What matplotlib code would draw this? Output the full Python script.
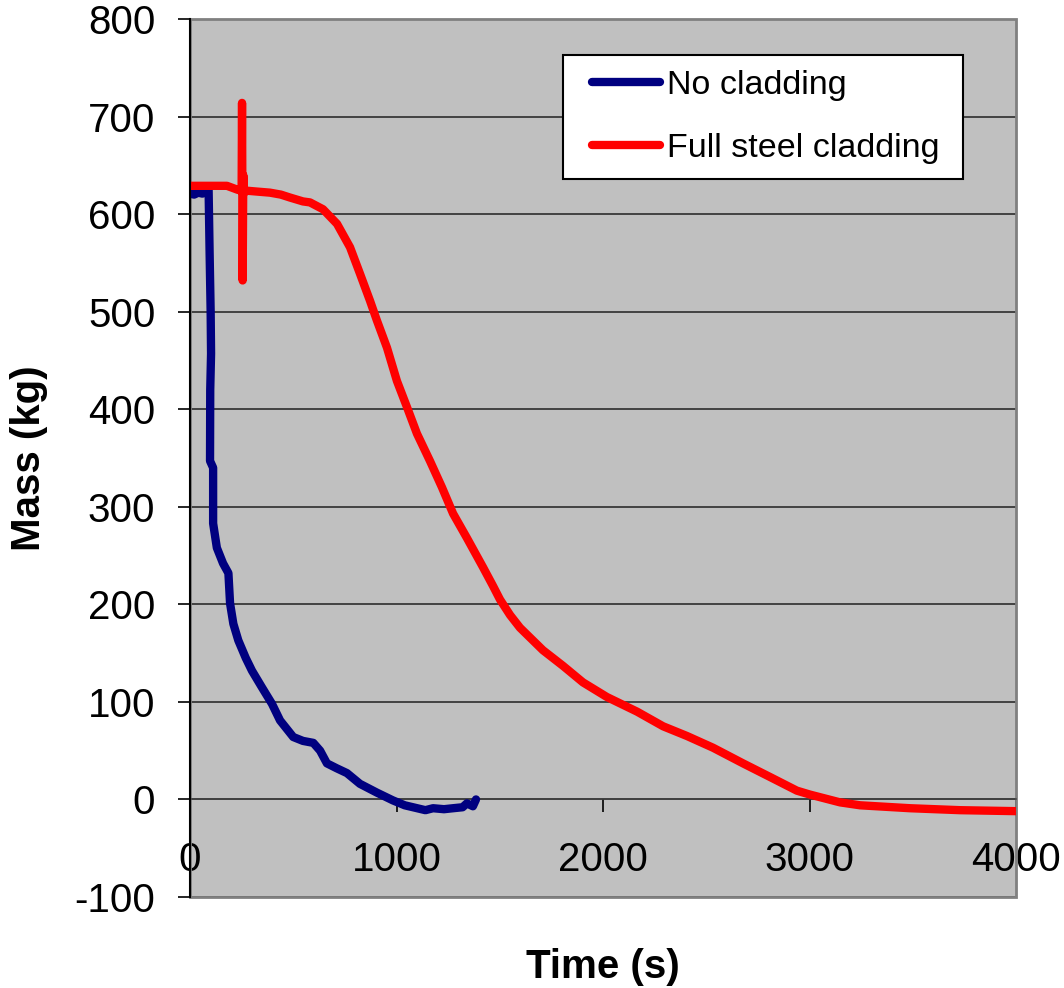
import matplotlib
matplotlib.use("Agg")
import matplotlib.pyplot as plt
from matplotlib.patches import Rectangle

# =========================
# Data
# =========================
blue_t = [0, 20, 40, 60, 80, 90, 92, 95, 100, 102, 98, 97, 112, 112, 130,
          160, 186, 194, 210, 234, 270, 300, 348, 397, 436, 500, 547, 597,
          630, 663, 710, 760, 823, 905, 983, 1040, 1080, 1140, 1177, 1230,
          1274, 1320, 1341, 1370, 1385]
blue_m = [621, 620, 622, 621, 624, 626, 600, 560, 500, 457, 420, 347, 340,
          283, 258, 242, 232, 201, 180, 163, 145, 132, 115, 98, 81, 64, 60,
          58, 50, 37, 32, 27, 16, 7, -1, -6, -8, -11, -9, -10, -9, -8, -4,
          -7, 0]

red_t = [0, 60, 120, 179, 230, 250, 252, 255, 258, 262, 275, 330, 387, 440,
         484, 547, 581, 644, 712, 775, 823, 872, 905, 954, 1002, 1051, 1099,
         1162, 1220, 1274, 1341, 1419, 1467, 1501, 1550, 1598, 1709, 1806,
         1903, 2019, 2165, 2291, 2407, 2533, 2678, 2809, 2939, 3002, 3148,
         3245, 3487, 3729, 4000]
red_m = [629, 629, 629, 629, 625, 624, 714, 532, 640, 622, 624, 623, 622,
         620, 617, 613, 612, 605, 590, 566, 539, 511, 491, 463, 429, 402, 375,
         347, 320, 293, 268, 238, 219, 205, 189, 176, 153, 137, 120, 105, 90,
         75, 65, 53, 37, 23, 9, 5, -3, -6, -9, -11, -12]

series_labels = ["No cladding", "Full steel cladding"]
x_ticks = [0, 1000, 2000, 3000, 4000]
y_ticks = list(range(-100, 801, 100))

# =========================
# Plot
# =========================
plt.rcParams["font.family"] = ["Liberation Sans", "DejaVu Sans"]
plt.rcParams["axes.unicode_minus"] = False

fig = plt.figure(figsize=(10.64, 9.88), dpi=100)
ax = fig.add_axes([190 / 1064, 1 - 897 / 988, 826 / 1064, 878 / 988])
ax.set_facecolor("#C0C0C0")

line_kw = dict(linewidth=6, solid_capstyle="round", solid_joinstyle="round")
ax.plot(blue_t, blue_m, color="#000080", label=series_labels[0], zorder=3, **line_kw)
ax.plot(red_t, red_m, color="#FF0000", label=series_labels[1], zorder=3, **line_kw)

ax.set_xlim(0, 4000)
ax.set_ylim(-100, 800)
ax.set_xticks(x_ticks)
ax.set_yticks(y_ticks)

# horizontal grid only
ax.yaxis.grid(True, color="#202020", linewidth=1.1)
ax.xaxis.grid(False)
ax.set_axisbelow(True)

# x axis crosses at y = 0
ax.spines["bottom"].set_position(("data", 0))
ax.spines["bottom"].set_color("#404040")
ax.spines["bottom"].set_linewidth(1.1)
ax.spines["left"].set_color("black")
ax.spines["left"].set_linewidth(1.5)
ax.spines["left"].set_zorder(4)
ax.spines["top"].set_visible(False)
ax.spines["right"].set_visible(False)

# grey plot-area frame
ax.add_patch(Rectangle((0, 0), 1, 1, transform=ax.transAxes, fill=False,
                       edgecolor="#808080", linewidth=2, clip_on=False, zorder=1))

ax.tick_params(axis="x", direction="out", length=9, width=1.2, pad=21,
               labelsize=29, colors="black")
ax.tick_params(axis="y", direction="out", length=9, width=1.2, pad=16,
               labelsize=29, colors="black")

ax.set_xlabel("Time (s)", fontsize=29, fontweight="bold")
ax.xaxis.set_label_coords(0.5, -0.058)
ax.set_ylabel("Mass (kg)", fontsize=29, fontweight="bold")
ax.yaxis.set_label_coords(-0.172, 0.5)

# =========================
# Legend box
# =========================
ax.add_patch(Rectangle((0.4516, 0.818), 0.4843, 0.141, transform=ax.transAxes,
                       facecolor="white", edgecolor="black", linewidth=1.5,
                       zorder=5))
leg = ax.legend(loc="upper left", bbox_to_anchor=(0.4867, 0.942),
                frameon=False, borderpad=0, borderaxespad=0,
                handlelength=2.0, handletextpad=0.2, labelspacing=0.93,
                fontsize=24.5)
leg.set_zorder(6)

fig.savefig("out.png", dpi=100)
